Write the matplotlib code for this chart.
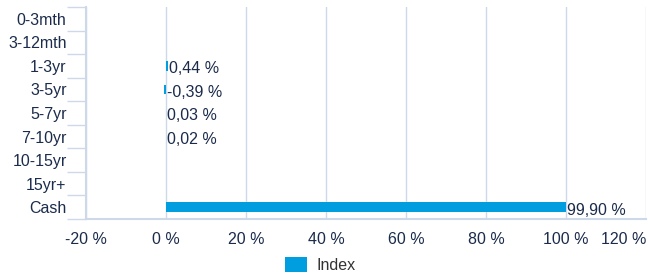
import matplotlib
matplotlib.use("Agg")
import matplotlib.pyplot as plt
import numpy as np

categories = ["0-3mth", "3-12mth", "1-3yr", "3-5yr", "5-7yr", "7-10yr", "10-15yr", "15yr+", "Cash"]
index_values = [np.nan, np.nan, 0.44, -0.39, 0.03, 0.02, np.nan, np.nan, 99.90]
xticks = [-20, 0, 20, 40, 60, 80, 100, 120]

text_color = "#1b2b4b"
grid_color = "#cdd8e8"
bar_color = "#009ddf"

plt.rcParams["font.family"] = ["Liberation Sans", "DejaVu Sans"]

fig = plt.figure(figsize=(6.48, 2.74), dpi=100)
ax = fig.add_axes([0.1327, 0.2007, 0.8643, 0.7737])

y = np.arange(len(categories))
vals = np.nan_to_num(np.array(index_values, dtype=float))
ax.barh(y, vals, height=0.42, color=bar_color, zorder=3, label="Index")

# value labels
for yi, v in zip(y, index_values):
    if np.isnan(v):
        continue
    label = f"{v:.2f} %".replace(".", ",")
    ax.text(max(v, 0) + 0.3, yi + 0.12, label, va="center", ha="left",
            fontsize=11.5, color=text_color, zorder=4)

ax.set_xlim(-20, 120)
ax.set_ylim(len(categories) - 0.5, -0.5)
ax.set_xticks(xticks)
ax.set_xticklabels([f"{t} %" for t in xticks])
ax.get_xticklabels()[-1].set_horizontalalignment("right")
ax.set_yticks(y)
ax.set_yticklabels(categories)
ax.set_yticks(np.arange(-0.5, len(categories), 1), minor=True)

ax.tick_params(axis="y", which="major", length=0, pad=14, labelsize=11.5, labelcolor=text_color)
ax.tick_params(axis="y", which="minor", length=14, width=1, color=grid_color)
ax.tick_params(axis="x", length=0, pad=9, labelsize=11.5, labelcolor=text_color)

ax.grid(axis="x", color=grid_color, linewidth=1, zorder=0)
for side in ["top", "right"]:
    ax.spines[side].set_visible(False)
for side in ["left", "bottom"]:
    ax.spines[side].set_color(grid_color)
    ax.spines[side].set_linewidth(1.5)

ax.legend(loc="center", bbox_to_anchor=(0.418, -0.217), frameon=False,
          fontsize=11.5, handlelength=1.4, handleheight=1.1, handletextpad=0.6,
          labelcolor="#333333")

fig.savefig("out.png", dpi=100)
